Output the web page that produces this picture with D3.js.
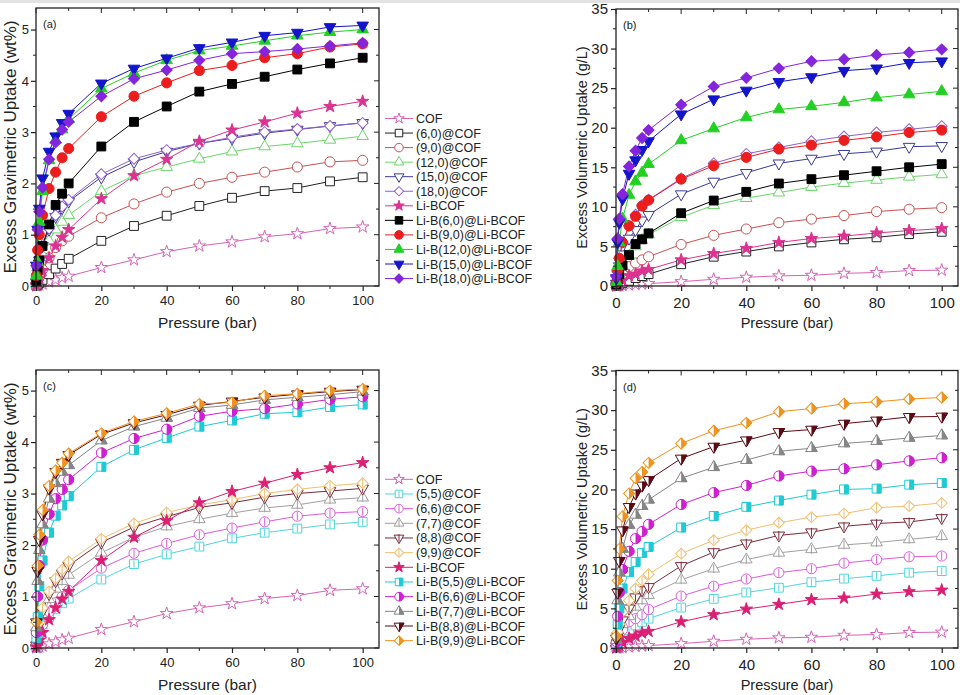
<!DOCTYPE html>
<html><head><meta charset="utf-8">
<script src="https://cdn.jsdelivr.net/npm/d3@7"></script>
<style>body{margin:0;background:#fff}svg{display:block;font-family:"Liberation Sans",Arial,sans-serif}</style>
</head><body>
<svg id="chart" width="960" height="695"></svg>
<script>
// ---------- DATA ----------
const pressure = [0.1, 0.5, 1, 2, 4, 6, 8, 10, 20, 30, 40, 50, 60, 70, 80, 90, 100];
const xTicks = [0, 20, 40, 60, 80, 100];
const gravTicks = [0, 1, 2, 3, 4, 5];
const volTicks = [0, 5, 10, 15, 20, 25, 30, 35];

// (a) gravimetric, zigzag
const gravCOF      = [0.002,0.01,0.02,0.04,0.08,0.12,0.16,0.19,0.36,0.51,0.67,0.78,0.86,0.96,1.02,1.12,1.15];
const grav60COF    = [0.01,0.03,0.06,0.12,0.23,0.34,0.43,0.53,0.88,1.17,1.37,1.56,1.72,1.85,1.91,2.04,2.12];
const grav90COF    = [0.02,0.10,0.18,0.32,0.55,0.75,0.88,0.97,1.33,1.60,1.83,2.00,2.12,2.22,2.32,2.42,2.45];
const grav120COF   = [0.05,0.22,0.38,0.60,0.88,1.10,1.25,1.38,1.85,2.15,2.32,2.48,2.62,2.72,2.78,2.85,2.92];
const grav150COF   = [0.07,0.30,0.50,0.78,1.10,1.35,1.52,1.65,2.12,2.42,2.62,2.78,2.88,2.98,3.05,3.12,3.18];
const grav180COF   = [0.07,0.30,0.50,0.80,1.12,1.38,1.55,1.68,2.18,2.48,2.65,2.78,2.90,3.00,3.06,3.12,3.18];
const gravLiBCOF   = [0.02,0.08,0.15,0.30,0.55,0.78,0.95,1.10,1.70,2.15,2.47,2.82,3.04,3.20,3.37,3.50,3.60];
const gravLi60     = [0.10,0.30,0.50,0.78,1.20,1.58,1.80,2.00,2.72,3.20,3.50,3.79,3.94,4.08,4.22,4.34,4.45];
const gravLi90     = [0.20,0.70,1.00,1.38,1.90,2.22,2.50,2.68,3.30,3.70,3.96,4.20,4.30,4.45,4.53,4.66,4.72];
const gravLi120    = [0.20,0.47,1.25,1.85,2.45,2.85,3.05,3.25,3.85,4.15,4.40,4.59,4.68,4.78,4.88,4.95,5.00];
const gravLi150    = [0.40,1.10,1.51,2.10,2.62,2.92,3.18,3.36,3.95,4.24,4.44,4.64,4.75,4.88,4.94,5.05,5.08];
const gravLi180    = [0.40,1.10,1.45,1.92,2.47,2.80,3.05,3.20,3.70,4.04,4.21,4.40,4.53,4.57,4.62,4.68,4.74];

// (b) volumetric, zigzag
const volCOF       = [0.005,0.02,0.03,0.07,0.13,0.20,0.26,0.30,0.55,0.85,1.10,1.28,1.35,1.60,1.70,1.95,2.00];
const vol60COF     = [0.02,0.10,0.18,0.35,0.65,1.00,1.25,1.50,2.75,3.70,4.35,5.00,5.50,5.90,6.15,6.55,6.85];
const vol90COF     = [0.10,0.50,0.90,1.50,2.45,2.90,3.30,3.70,5.25,6.40,7.20,8.00,8.45,8.90,9.40,9.70,9.90];
const vol120COF    = [0.20,0.80,1.50,2.50,3.80,5.00,5.80,6.50,8.70,10.2,11.1,11.8,12.5,13.0,13.4,13.8,14.1];
const vol150COF    = [0.30,1.50,2.50,4.00,6.00,7.10,8.30,9.00,11.6,13.2,14.3,15.5,16.1,16.7,17.0,17.6,17.7];
const vol180COF    = [0.40,2.00,3.50,5.50,7.60,9.00,10.2,10.9,13.6,15.5,16.7,17.5,18.3,18.9,19.4,19.8,20.2];
const volLiBCOF    = [0.04,0.20,0.35,0.70,1.30,1.50,1.90,2.10,3.30,4.10,4.75,5.50,6.00,6.30,6.70,7.00,7.25];
const volLi60      = [0.20,0.80,1.50,2.60,3.90,5.30,5.90,6.65,9.20,10.8,11.9,12.95,13.5,14.0,14.5,15.0,15.4];
const volLi90      = [0.40,2.00,3.50,5.50,7.60,8.80,10.1,10.85,13.5,15.2,16.25,17.3,17.8,18.4,18.85,19.4,19.7];
const volLi120     = [0.50,2.50,5.50,8.50,11.5,13.2,14.3,15.4,18.4,19.9,21.3,22.3,22.7,23.2,23.8,24.2,24.6];
const volLi150     = [1.00,5.50,8.00,11.0,14.2,15.9,17.2,18.3,21.7,23.6,24.7,25.8,26.4,27.2,27.5,28.2,28.4];
const volLi180     = [1.20,6.00,8.50,11.6,15.1,17.1,18.7,19.7,22.9,25.2,26.3,27.5,28.4,28.65,29.2,29.5,29.9];

// (c) gravimetric, armchair
const grav55COF    = [0.01,0.14,0.24,0.38,0.60,0.75,0.87,0.96,1.33,1.63,1.82,1.97,2.13,2.24,2.32,2.40,2.45];
const grav66COF    = [0.02,0.16,0.28,0.45,0.70,0.88,1.00,1.12,1.55,1.84,2.03,2.20,2.33,2.45,2.56,2.62,2.65];
const grav77COF    = [0.04,0.24,0.40,0.62,0.95,1.15,1.30,1.42,1.85,2.15,2.36,2.50,2.62,2.72,2.78,2.88,2.92];
const grav88COF    = [0.05,0.28,0.45,0.72,1.05,1.30,1.45,1.60,2.05,2.35,2.55,2.73,2.82,2.93,3.00,3.05,3.10];
const grav99COF    = [0.05,0.30,0.50,0.78,1.10,1.35,1.52,1.68,2.12,2.42,2.63,2.78,2.88,3.00,3.08,3.15,3.20];
const gravLi55     = [0.20,0.60,1.20,1.70,2.24,2.57,2.77,2.95,3.52,3.85,4.08,4.30,4.42,4.55,4.58,4.68,4.73];
const gravLi66     = [0.30,1.00,1.60,2.10,2.60,2.90,3.08,3.27,3.79,4.07,4.25,4.50,4.60,4.65,4.74,4.83,4.88];
const gravLi77     = [0.40,1.30,1.90,2.40,2.90,3.20,3.42,3.55,4.03,4.30,4.47,4.66,4.72,4.82,4.87,4.92,4.98];
const gravLi88     = [0.50,1.50,2.10,2.60,3.10,3.42,3.60,3.75,4.15,4.37,4.53,4.71,4.79,4.87,4.93,4.98,5.02];
const gravLi99     = [0.50,1.60,2.20,2.68,3.15,3.45,3.60,3.78,4.17,4.40,4.56,4.74,4.77,4.90,4.94,5.00,5.03];

// (d) volumetric, armchair
const vol55COF     = [0.05,0.60,1.00,1.60,2.30,2.85,3.30,3.70,5.10,6.20,7.00,7.60,8.30,8.75,9.10,9.50,9.70];
const vol66COF     = [0.10,0.90,1.50,2.30,3.30,3.70,4.20,4.85,6.55,7.80,8.70,9.50,10.0,10.7,11.15,11.5,11.6];
const vol77COF     = [0.20,1.20,2.00,3.00,4.00,5.20,6.00,6.65,8.60,10.0,11.15,12.0,12.45,13.0,13.3,13.7,14.1];
const vol88COF     = [0.20,1.50,2.50,3.50,5.00,6.40,7.30,7.70,10.35,12.1,13.2,14.2,14.6,15.35,15.7,15.9,16.4];
const vol99COF     = [0.30,2.00,3.00,4.50,6.00,7.50,8.50,9.30,11.9,13.6,14.85,15.8,16.5,16.95,17.7,17.9,18.3];
const volLiBCOFd   = [0.04,0.20,0.35,0.70,1.20,1.50,1.90,2.10,3.30,4.20,4.90,5.50,6.10,6.30,6.80,7.10,7.30];
const volLi55      = [0.60,3.00,5.00,7.50,9.60,10.85,12.0,12.75,15.2,16.65,17.8,18.6,19.35,20.0,20.1,20.6,20.8];
const volLi66      = [0.80,4.00,7.00,9.90,12.2,13.8,14.7,15.6,18.1,19.6,20.5,21.7,22.3,22.6,23.1,23.6,24.0];
const volLi77      = [1.00,6.00,9.50,12.5,15.5,16.8,17.9,18.7,21.4,22.8,23.7,24.8,25.2,25.8,26.1,26.5,26.8];
const volLi88      = [1.20,7.00,11.0,14.85,17.8,19.5,20.5,21.2,23.9,25.4,26.2,27.25,27.55,28.3,28.7,29.15,29.2];
const volLi99      = [1.50,8.50,12.5,16.6,19.5,21.4,22.2,23.35,25.8,27.4,28.4,29.8,30.2,30.8,31.05,31.4,31.6];

const namesZig = ["COF","(6,0)@COF","(9,0)@COF","(12,0)@COF","(15,0)@COF","(18,0)@COF","Li-BCOF",
  "Li-B(6,0)@Li-BCOF","Li-B(9,0)@Li-BCOF","Li-B(12,0)@Li-BCOF","Li-B(15,0)@Li-BCOF","Li-B(18,0)@Li-BCOF"];
const namesArm = ["COF","(5,5)@COF","(6,6)@COF","(7,7)@COF","(8,8)@COF","(9,9)@COF","Li-BCOF",
  "Li-B(5,5)@Li-BCOF","Li-B(6,6)@Li-BCOF","Li-B(7,7)@Li-BCOF","Li-B(8,8)@Li-BCOF","Li-B(9,9)@Li-BCOF"];

// ---------- STYLES ----------
const styleZig = [
  {c:"#d563b4", s:"star", m:"open"},
  {c:"#222222", s:"square", m:"open"},
  {c:"#c9504f", s:"circle", m:"open"},
  {c:"#6ad66a", s:"tri", m:"open"},
  {c:"#3a3a94", s:"dtri", m:"open"},
  {c:"#9060d0", s:"diamond", m:"open"},
  {c:"#dc3291", s:"star", m:"fill"},
  {c:"#000000", s:"square", m:"fill"},
  {c:"#ec1d1d", s:"circle", m:"fill"},
  {c:"#22d022", s:"tri", m:"fill"},
  {c:"#1414cc", s:"dtri", m:"fill"},
  {c:"#8424dc", s:"diamond", m:"fill"}
];
const styleArm = [
  {c:"#d563b4", s:"star", m:"open"},
  {c:"#4fd6dc", s:"square", m:"split"},
  {c:"#dc5cdc", s:"circle", m:"split"},
  {c:"#a0a0a0", s:"tri", m:"split"},
  {c:"#7a2a3a", s:"dtri", m:"split"},
  {c:"#f0be70", s:"diamond", m:"split"},
  {c:"#dc1f73", s:"star", m:"fill"},
  {c:"#1ecbd4", s:"square", m:"half"},
  {c:"#d21ed2", s:"circle", m:"half"},
  {c:"#858585", s:"tri", m:"half"},
  {c:"#5c0a14", s:"dtri", m:"half"},
  {c:"#f0921e", s:"diamond", m:"half"}
];

const panels = [
  {label:"(a)", x0:36, x1:379, y0:8, y1:286, ymax:5.42, yt:gravTicks, ystep:1, ytitle:"Excess Gravimetric Uptake (wt%)",
   big:false, names:namesZig, styles:styleZig, legendY:118.5, legendStep:14.55,
   data:[gravCOF,grav60COF,grav90COF,grav120COF,grav150COF,grav180COF,gravLiBCOF,gravLi60,gravLi90,gravLi120,gravLi150,gravLi180]},
  {label:"(b)", x0:616, x1:958, y0:9, y1:286, ymax:35, yt:volTicks, ystep:5, ytitle:"Excess Volumetric Uptake (g/L)",
   big:true, names:null,
   data:[volCOF,vol60COF,vol90COF,vol120COF,vol150COF,vol180COF,volLiBCOF,volLi60,volLi90,volLi120,volLi150,volLi180], styles:styleZig},
  {label:"(c)", x0:36, x1:379, y0:370, y1:648, ymax:5.4, yt:gravTicks, ystep:1, ytitle:"Excess Gravimetric Uptake (wt%)",
   big:false, names:namesArm, styles:styleArm, legendY:479.3, legendStep:14.67,
   data:[gravCOF,grav55COF,grav66COF,grav77COF,grav88COF,grav99COF,gravLiBCOF,gravLi55,gravLi66,gravLi77,gravLi88,gravLi99]},
  {label:"(d)", x0:616, x1:958, y0:370.5, y1:648, ymax:35, yt:volTicks, ystep:5, ytitle:"Excess Volumetric Uptake (g/L)",
   big:true, names:null, styles:styleArm,
   data:[volCOF,vol55COF,vol66COF,vol77COF,vol88COF,vol99COF,volLiBCOFd,volLi55,volLi66,volLi77,volLi88,volLi99]}
];

// ---------- DRAW ----------
const svg = d3.select("#chart");
svg.append("rect").attr("x",0).attr("y",0).attr("width",960).attr("height",3).attr("fill","#e2e2e2");
const defs = svg.append("defs");
defs.append("clipPath").attr("id","rh").attr("clipPathUnits","userSpaceOnUse")
  .append("rect").attr("x",0).attr("y",-20).attr("width",20).attr("height",40);

function shapePath(s, k){
  k = k||1;
  switch(s){
    case "square": return {d:d3.symbol(d3.symbolSquare, 78*k*k)(), r:0, h:4.4*k};
    case "circle": return {d:d3.symbol(d3.symbolCircle, 80*k*k)(), r:0, h:5*k};
    case "tri": return {d:d3.symbol(d3.symbolTriangle, 58*k*k)(), r:0, h:5.5*k};
    case "dtri": return {d:d3.symbol(d3.symbolTriangle, 58*k*k)(), r:180, h:5.5*k};
    case "diamond": return {d:d3.symbol(d3.symbolSquare, 60*k*k)(), r:45, h:5.5*k};
    case "star": return {d:d3.symbol(d3.symbolStar, 48*k*k)(), r:0, h:6*k};
  }
}
function drawMarker(g, x, y, st, k){
  const p = shapePath(st.s, k);
  const gg = g.append("g").attr("transform",`translate(${x},${y})`);
  const fill = st.m==="fill" ? st.c : "#fff";
  gg.append("path").attr("d",p.d).attr("transform",`rotate(${p.r})`)
    .attr("fill",fill).attr("stroke",st.c).attr("stroke-width",1);
  if(st.m==="half"){
    gg.append("g").attr("clip-path","url(#rh)")
      .append("path").attr("d",p.d).attr("transform",`rotate(${p.r})`).attr("fill",st.c).attr("stroke",st.c).attr("stroke-width",1);
  }
  if(st.m==="split"){
    gg.append("line").attr("x1",0).attr("x2",0).attr("y1",-p.h*0.8).attr("y2",p.h*0.8)
      .attr("stroke",st.c).attr("stroke-width",1);
  }
}

panels.forEach(P=>{
  const g = svg.append("g");
  const x = d3.scaleLinear().domain([0,105]).range([P.x0,P.x1]);
  const y = d3.scaleLinear().domain([0,P.ymax]).range([P.y1,P.y0]);
  const tickFont = P.big ? 15 : 13;
  const titleFont = P.big ? 14.5 : 17;
  const xTitleFont = P.big ? 14.5 : 15.5;

  // series
  P.data.forEach((vals,i)=>{
    const st = P.styles[i];
    const pts = pressure.map((p,j)=>[x(p), y(vals[j])]);
    g.append("path").attr("d", d3.line()(pts)).attr("fill","none").attr("stroke",st.c).attr("stroke-width",1);
  });
  P.data.forEach((vals,i)=>{
    const st = P.styles[i];
    pressure.forEach((p,j)=> drawMarker(g, x(p), y(vals[j]), st, 1));
  });

  // frame
  g.append("rect").attr("x",P.x0).attr("y",P.y0).attr("width",P.x1-P.x0).attr("height",P.y1-P.y0)
    .attr("fill","none").attr("stroke","#222").attr("stroke-width",1.3);

  // axes
  const xMinor = d3.range(10,101,20);
  const yMinor = P.yt.slice(0,-1).map(v=>v+P.ystep/2).filter(v=>v<P.ymax);
  const axB = d3.axisBottom(x).tickValues(xTicks).tickFormat(d3.format("d")).tickSize(5).tickPadding(4).tickSizeOuter(0);
  const axL = d3.axisLeft(y).tickValues(P.yt.filter(v=>v<=P.ymax+0.001)).tickFormat(d3.format("d"))
    .tickSize(5).tickPadding(P.big?3:2).tickSizeOuter(0);
  const gb = g.append("g").attr("transform",`translate(0,${P.y1})`).call(axB);
  const gl = g.append("g").attr("transform",`translate(${P.x0},0)`).call(axL);
  [gb,gl].forEach(a=>{
    a.select(".domain").remove();
    a.selectAll("line").attr("stroke","#222").attr("stroke-width",1.2);
    a.selectAll("text").attr("font-size",tickFont).attr("fill","#222").attr("font-family","Liberation Sans, Arial, sans-serif");
  });
  gb.selectAll("text").attr("dy", P.big ? "0.85em":"0.8em");
  // minor ticks outward
  xMinor.forEach(v=>g.append("line").attr("x1",x(v)).attr("x2",x(v)).attr("y1",P.y1).attr("y2",P.y1+3).attr("stroke","#222"));
  yMinor.forEach(v=>g.append("line").attr("x1",P.x0-3).attr("x2",P.x0).attr("y1",y(v)).attr("y2",y(v)).attr("stroke","#222"));
  // mirror ticks inward top/right
  xTicks.concat(xMinor).forEach(v=>{
    const L = xTicks.includes(v)?5:3;
    g.append("line").attr("x1",x(v)).attr("x2",x(v)).attr("y1",P.y0).attr("y2",P.y0+L).attr("stroke","#222");
  });
  P.yt.concat(yMinor).filter(v=>v<P.ymax).forEach(v=>{
    const L = P.yt.includes(v)?5:3;
    g.append("line").attr("x1",P.x1-L).attr("x2",P.x1).attr("y1",y(v)).attr("y2",y(v)).attr("stroke","#222");
  });

  // titles
  g.append("text").attr("x",(P.x0+P.x1)/2).attr("y",P.y1 + (P.big?42:42))
    .attr("text-anchor","middle").attr("font-size",xTitleFont).attr("fill","#222").text("Pressure (bar)");
  const tx = P.big ? P.x0-29 : P.x0-20;
  g.append("text").attr("transform",`translate(${tx},${(P.y0+P.y1)/2}) rotate(-90)`)
    .attr("text-anchor","middle").attr("font-size",titleFont).attr("fill","#222").text(P.ytitle);
  g.append("text").attr("x",P.x0+7).attr("y",P.y0+20).attr("font-size",11).attr("fill","#222").text(P.label);

  // legend
  if(P.names){
    P.names.forEach((n,i)=>{
      const ly = P.legendY + i*P.legendStep;
      const st = P.styles[i];
      g.append("line").attr("x1",385).attr("x2",413).attr("y1",ly).attr("y2",ly).attr("stroke",st.c).attr("stroke-width",1);
      drawMarker(g, 399, ly, st, 0.85);
      g.append("text").attr("x",416).attr("y",ly).attr("dy","0.36em").attr("font-size",12.5).attr("fill","#222").text(n);
    });
  }
});
</script>
</body></html>
